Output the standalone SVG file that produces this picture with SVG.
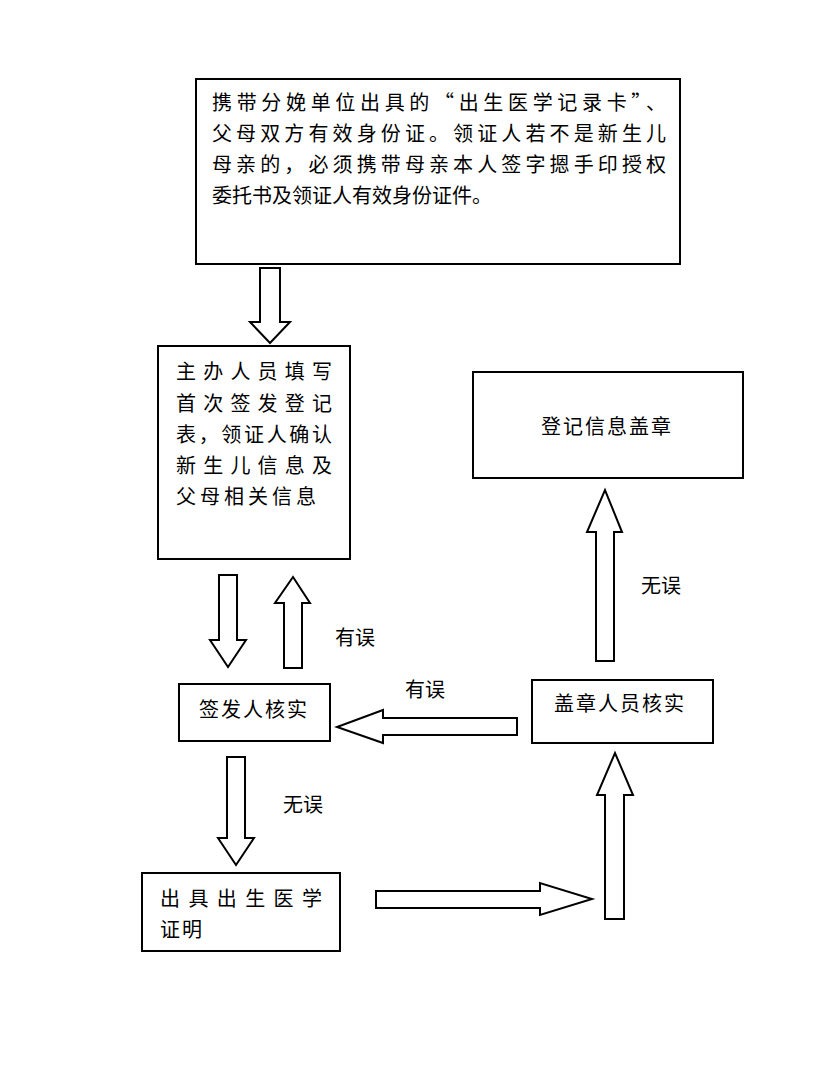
<svg xmlns="http://www.w3.org/2000/svg" width="822" height="1083" viewBox="0 0 822 1083">
<style>
.b{fill:#fff;stroke:#000;stroke-width:2}
.a{fill:#fff;stroke:#000;stroke-width:2;stroke-linejoin:miter}
text{font-family:"Noto Sans CJK SC","Noto Sans",sans-serif;font-size:20px;fill:#000}
</style>
<rect width="822" height="1083" fill="#fff"/>
<g id="n1"><rect class="b" x="196" y="79" width="484" height="185"/>
<text x="212" y="110" textLength="454" lengthAdjust="spacing">携带分娩单位出具的“出生医学记录卡”、</text>
<text x="212" y="141" textLength="454" lengthAdjust="spacing">父母双方有效身份证。领证人若不是新生儿</text>
<text x="212" y="172" textLength="454" lengthAdjust="spacing">母亲的，必须携带母亲本人签字摁手印授权</text>
<text x="212" y="203">委托书及领证人有效身份证件。</text></g>
<g id="n2"><rect class="b" x="158" y="346" width="192" height="213"/>
<text x="176" y="379" textLength="156" lengthAdjust="spacing">主办人员填写</text>
<text x="176" y="411" textLength="156" lengthAdjust="spacing">首次签发登记</text>
<text x="176" y="442" textLength="156" lengthAdjust="spacing">表，领证人确认</text>
<text x="176" y="473" textLength="156" lengthAdjust="spacing">新生儿信息及</text>
<text x="176" y="504" textLength="140" lengthAdjust="spacing">父母相关信息</text></g>
<g id="n3"><rect class="b" x="473" y="372" width="270" height="106"/>
<text x="607" y="434" text-anchor="middle" letter-spacing="2">登记信息盖章</text></g>
<g id="n4"><rect class="b" x="179" y="684" width="151" height="57"/>
<text x="254" y="717" text-anchor="middle" letter-spacing="2">签发人核实</text></g>
<g id="n5"><rect class="b" x="532" y="680" width="181" height="63"/>
<text x="620" y="711" text-anchor="middle" letter-spacing="2">盖章人员核实</text></g>
<g id="n6"><rect class="b" x="142" y="873" width="198" height="78"/>
<text x="160" y="906" textLength="162" lengthAdjust="spacing">出具出生医学</text>
<text x="160" y="937" letter-spacing="2">证明</text></g>
<g id="connectors">
<polygon class="a" points="260,268 280,268 280,322 290,322 270,343 250,322 260,322"/>
<polygon class="a" points="219,575 237,575 237,640 246,640 228,667 210,640 219,640"/>
<polygon class="a" points="284,668 302,668 302,603 310,603 293,577 275,603 284,603"/>
<polygon class="a" points="517,718 517,735 383,735 383,743 337,727 383,710 383,718"/>
<polygon class="a" points="596,661 614,661 614,532 622,532 605,490 587,532 596,532"/>
<polygon class="a" points="227,757 245,757 245,838 254,838 236,865 218,838 227,838"/>
<polygon class="a" points="376,891 540,891 540,883 592,899 540,915 540,908 376,908"/>
<polygon class="a" points="605,919 624,919 624,795 633,795 615,753 597,795 605,795"/>
<text x="335" y="645">有误</text>
<text x="405" y="697">有误</text>
<text x="641" y="593">无误</text>
<text x="283" y="812">无误</text>
</g>
</svg>
